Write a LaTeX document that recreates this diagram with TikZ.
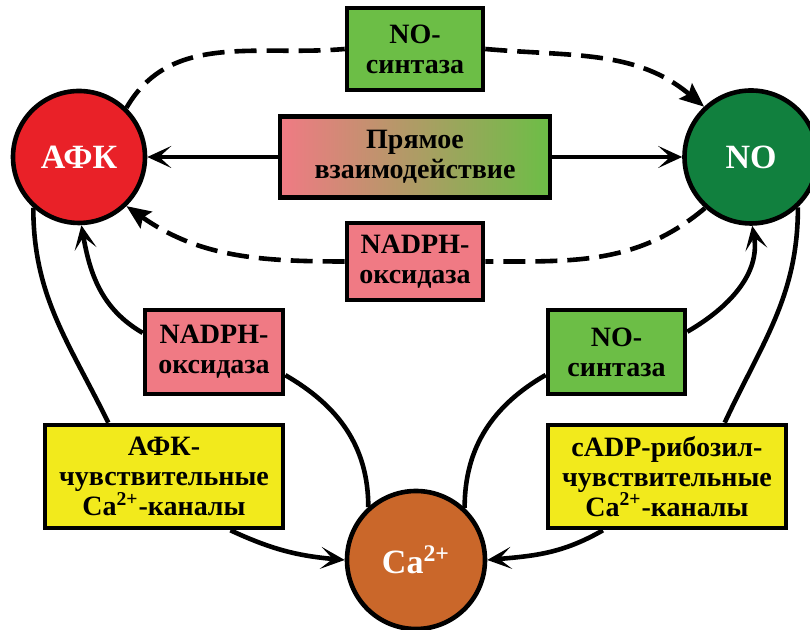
\documentclass[tikz,border=0pt]{standalone}
\usepackage{fontspec}
\setmainfont{Liberation Serif}
\usetikzlibrary{arrows.meta}
\definecolor{afkred}{RGB}{233,33,40}
\definecolor{nogreen}{RGB}{17,128,62}
\definecolor{caorange}{RGB}{202,103,42}
\definecolor{boxgreen}{RGB}{108,190,70}
\definecolor{boxpink}{RGB}{240,122,132}
\definecolor{boxyellow}{RGB}{242,234,28}
\definecolor{midyellow}{RGB}{212,216,96}
\begin{document}
\begin{tikzpicture}[x=0.5pt,y=0.5pt,line width=2.3pt,
  circ/.style={circle,draw,line width=2.3pt,minimum size=#1,inner sep=0pt,
    text=white,font=\fontsize{17}{17}\selectfont\bfseries},
  enzyme/.style={draw,line width=2.3pt,align=center,inner sep=0pt,
    font=\fontsize{14}{15}\selectfont\bfseries},
  arr/.style={-{Stealth[length=12pt,width=11pt,inset=6pt]}},
  dashes/.style={dash pattern=on 11pt off 5pt},
  dasharr/.style={dashes,-{Stealth[length=12pt,width=10pt,inset=2pt]}}]
\useasboundingbox (0,0) rectangle (810,630);
% circles
\node (afk) [circ=66pt,fill=afkred] at (79,473) {АФК};
\node (no) [circ=66.5pt,fill=nogreen] at (751,473) {NO};
\node (ca) [circ=69pt,fill=caorange] at (416,70) {Ca\textsuperscript{2+}};
% enzymes
\node (nos1) [enzyme,fill=boxgreen,minimum width=68pt,minimum height=41pt] at (415,581) {NO-\\синтаза};
\node (pryam) [enzyme,left color=boxpink,middle color=midyellow,right color=boxgreen,
  minimum width=135pt,minimum height=40.5pt] at (415,473) {Прямое\\взаимодействие};
\node (nadph1) [enzyme,fill=boxpink,minimum width=68pt,minimum height=38.5pt] at (415,368.5) {NADPH-\\оксидаза};
\node (nadph2) [enzyme,fill=boxpink,minimum width=69pt,minimum height=42pt] at (214,278) {NADPH-\\оксидаза};
\node (nos2) [enzyme,fill=boxgreen,minimum width=68.5pt,minimum height=42pt] at (616.5,278) {NO-\\синтаза};
\node (afkch) [enzyme,fill=boxyellow,minimum width=119pt,minimum height=51.5pt] at (164,153.5)
  {АФК-\\чувствительные\\Ca\textsuperscript{2+}-каналы};
\node (cadp) [enzyme,fill=boxyellow,minimum width=119pt,minimum height=51.5pt] at (667,153.5)
  {cADP-рибозил-\\чувствительные\\Ca\textsuperscript{2+}-каналы};
% dashed arcs
\draw [dashes] (afk.46) to[out=60,in=185] (nos1.west);
\draw [dasharr] (nos1.east) to[out=-5,in=140] (no.133);
\draw [dashes] (no.228) to[out=220,in=0] (nadph1.east);
\draw [dasharr] (nadph1.west) to[out=180,in=-35] (afk.-46);
% direct
\draw [arr] (pryam.west) -- (afk.east);
\draw [arr] (pryam.east) -- (no.west);
% lower loops
\draw (afk.228) to[out=-90,in=116] (afkch.136);
\draw [arr] (afkch.-39) to[out=-25,in=175] (ca.west);
\draw [arr] (nadph2.165) to[out=150,in=-80] (afk.-88);
\draw (nadph2.-18) to[out=-30,in=90] (ca.132);
\draw (ca.47) to[out=90,in=210] (nos2.198);
\draw [arr] (nos2.16) to[out=30,in=-80] (no.-89);
\draw (no.-47) to[out=-90,in=65] (cadp.43);
\draw [arr] (cadp.-140) to[out=-150,in=5] (ca.east);
\end{tikzpicture}
\end{document}
